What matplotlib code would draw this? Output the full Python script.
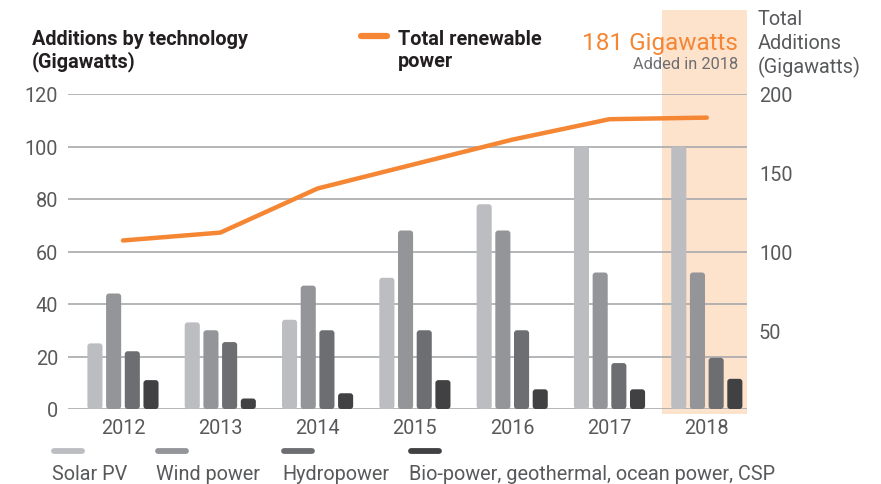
import matplotlib
matplotlib.use("Agg")
import matplotlib.pyplot as plt
from matplotlib.lines import Line2D
from matplotlib.patches import FancyBboxPatch
import numpy as np

# ---------------- data ----------------
years = ["2012", "2013", "2014", "2015", "2016", "2017", "2018"]
solar = [25, 33, 34, 50, 78, 100, 100]
wind = [44, 30, 47, 68, 68, 52, 52]
hydro = [22, 25.5, 30, 30, 30, 17.5, 19.5]
bio = [11, 4, 6, 11, 7.5, 7.5, 11.5]
total = [107, 112, 140, 155.5, 171, 184, 185]
series_names = ["Solar PV", "Wind power", "Hydropower",
                "Bio-power, geothermal, ocean power, CSP"]
left_ticks = [0, 20, 40, 60, 80, 100, 120]
right_ticks = [50, 100, 150, 200]

# ---------------- style ----------------
plt.rcParams['font.family'] = ['Roboto', 'DejaVu Sans']
colors = ["#BCBDC0", "#939598", "#6D6E71", "#414042"]
orange = "#F58634"
shade = "#FDE2CC"
grid_c = "#A7A9AC"
text_c = "#58595B"
dark = "#231F20"
FS = 14.3
TW = 'normal'

W, H = 881, 485
fig = plt.figure(figsize=(W / 100, H / 100), dpi=100)
ax = fig.add_axes([68 / W, 75 / H, 679 / W, 315 / H])

x = np.arange(len(years))
bw = 0.155
step = 0.192
ax.set_xlim(-0.565, 6.413)
ax.set_ylim(0, 120)

# px -> data conversions for rounded bar tops
px_x = (6.413 + 0.565) / 679.0
px_y = 120 / 315.0
for i, vals in enumerate([solar, wind, hydro, bio]):
    bars = ax.bar(x + (i - 1.5) * step, vals, width=bw, color=colors[i],
                  zorder=3, linewidth=0)
    for b in bars:
        b.set_visible(False)
        r = 3 * px_x
        p = FancyBboxPatch((b.get_x(), b.get_y()), b.get_width(),
                           b.get_height(),
                           boxstyle=f"round,pad=0,rounding_size={r}",
                           mutation_aspect=px_y / px_x,
                           facecolor=colors[i], edgecolor='none', zorder=3)
        ax.add_patch(p)

ax.set_yticks(left_ticks)
ax.set_yticklabels([str(t) for t in left_ticks])
ax.set_xticks(x)
ax.set_xticklabels(years)
for s in ax.spines.values():
    s.set_visible(False)
ax.tick_params(axis='y', length=0, pad=7.2, labelsize=FS, labelcolor=text_c)
ax.tick_params(axis='x', length=0, pad=6.5, labelsize=FS, labelcolor=text_c)
for lab in ax.get_yticklabels() + ax.get_xticklabels():
    lab.set_fontweight(TW)
ax.grid(axis='y', color=grid_c, linewidth=1.2, zorder=1)
ax.set_axisbelow(True)

# highlight for 2018
ax.axvspan(5.54, 6.413, ymin=-0.016, ymax=1.267, color=shade, zorder=0,
           clip_on=False, linewidth=0)

# right axis with total line
ax2 = ax.twinx()
ax2.set_ylim(0, 200)
ax2.set_yticks(right_ticks)
ax2.set_yticklabels([str(t) for t in right_ticks])
for s in ax2.spines.values():
    s.set_visible(False)
ax2.tick_params(axis='y', length=0, pad=8.6, labelsize=FS, labelcolor=text_c)
for lab in ax2.get_yticklabels():
    lab.set_fontweight(TW)
ax2.plot(x, total, color=orange, linewidth=3.2, solid_capstyle='round',
         solid_joinstyle='round', zorder=5, clip_on=False)

# ---------------- header texts ----------------
def fy(py):
    return 1 - py / H

fig.text(32 / W, fy(45), "Additions by technology", fontsize=FS,
         fontweight='bold', color=dark, va='baseline', ha='left')
fig.text(32 / W, fy(67), "(Gigawatts)", fontsize=FS,
         fontweight='bold', color=dark, va='baseline', ha='left')
fig.add_artist(Line2D([361 / W, 387 / W], [fy(37), fy(37)],
                      transform=fig.transFigure, color=orange, lw=4.5,
                      solid_capstyle='round'))
fig.text(398 / W, fy(45), "Total renewable", fontsize=FS,
         fontweight='bold', color=dark, va='baseline', ha='left')
fig.text(398 / W, fy(67), "power", fontsize=FS,
         fontweight='bold', color=dark, va='baseline', ha='left')
fig.text(738 / W, fy(50), "181 Gigawatts", fontsize=17.5, color=orange,
         ha='right', va='baseline')
fig.text(738 / W, fy(69), "Added in 2018", fontsize=11.8, color="#6D6E71",
         ha='right', va='baseline')
for k, line in enumerate(["Total", "Additions", "(Gigawatts)"]):
    fig.text(758 / W, fy(25 + 24 * k), line, fontsize=FS, color=text_c,
             ha='left', va='baseline', fontweight=TW)

# ---------------- legend ----------------
leg_x = [52, 156, 282, 409]
for i, name in enumerate(series_names):
    x0 = leg_x[i] + 2
    fig.add_artist(Line2D([x0 / W, (x0 + 28) / W], [fy(452), fy(452)],
                          transform=fig.transFigure, color=colors[i], lw=4.2,
                          solid_capstyle='round'))
    fig.text(leg_x[i] / W, fy(480), name, fontsize=FS, color=text_c,
             ha='left', va='baseline', fontweight=TW)

fig.savefig("out.png", dpi=100)
